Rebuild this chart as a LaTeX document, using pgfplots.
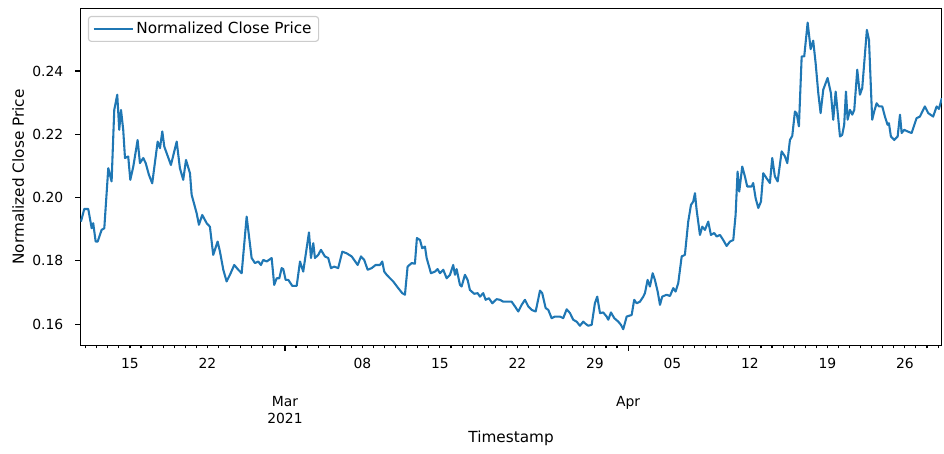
\documentclass[border=0pt]{standalone}
\usepackage{fontspec}
\setmainfont{DejaVu Sans}
\usepackage{pgfplots}
\pgfplotsset{compat=1.18}
\definecolor{mplblue}{HTML}{1F77B4}
\newcommand{\lblfont}{\fontsize{11}{13.2}\selectfont}
\begin{document}
\begin{tikzpicture}
\useasboundingbox (-57.8pt,-77.3pt) rectangle (621.9pt,248.9pt);
\begin{axis}[
  at={(0,0)}, anchor=south west,
  width=620.4pt, height=242.9pt, scale only axis,
  xmin=-18.49, xmax=59.35, ymin=0.1532, ymax=0.2598,
  axis line style={black, line width=0.8pt},
  every tick/.style={black, line width=0.8pt},
  tick align=outside,
  xtick pos=bottom, ytick pos=left,
  major tick length=3.5pt, minor tick length=2pt,
  xtick={-14,-7,7,14,21,28,35,42,49,56},
  xticklabels={15,22,08,15,22,29,05,12,19,26},
  major x tick style={draw=none},
  minor xtick={-18,-17,...,59},
  extra x ticks={0,31},
  extra x tick labels={{Mar\\2021},{Apr\\\phantom{2021}}},
  extra x tick style={major x tick style={draw=black, line width=0.8pt}, xticklabel style={yshift=-33.6pt}},
  xticklabel style={anchor=center, inner sep=0pt, align=center, yshift=-9pt},
  ytick={0.16,0.18,0.20,0.22,0.24},
  yticklabels={0.16,0.18,0.20,0.22,0.24},
  yticklabel style={anchor=east, inner sep=0pt, xshift=-8.6pt},
  xlabel={Timestamp},
  xlabel style={at={(axis description cs:0.5,0)}, anchor=center, yshift=-66.5pt, font=\lblfont},
  ylabel={Normalized Close Price},
  ylabel style={at={(axis description cs:-0.072,0.5)}, anchor=center, font=\lblfont},
  legend style={at={(axis description cs:0,1)}, xshift=5.5pt, yshift=-5.5pt, anchor=north west,
    draw=black!20, line width=0.8pt, rounded corners=2pt, inner xsep=3pt, inner ysep=2pt, font=\lblfont},
  legend cell align=left,
  legend image code/.code={\draw[#1] (0pt,0pt) -- (22pt,0pt); \path (22pt,0pt) -- (28pt,0pt);},
]
\addplot[mplblue, line width=1.5pt, line join=round] coordinates {
(-18.43,0.1924) (-18.13,0.1964) (-17.77,0.1964) (-17.46,0.1903) (-17.32,0.1919)
(-17.10,0.1861) (-16.92,0.1861) (-16.56,0.1898) (-16.32,0.1903) (-15.96,0.2093)
(-15.66,0.2051) (-15.42,0.2277) (-15.15,0.2325) (-14.97,0.2214) (-14.81,0.2277)
(-14.61,0.2214) (-14.45,0.2125) (-14.16,0.2130) (-13.97,0.2056) (-13.70,0.2098)
(-13.31,0.2182) (-13.10,0.2109) (-12.80,0.2125) (-12.58,0.2109) (-12.29,0.2072)
(-11.99,0.2045) (-11.50,0.2177) (-11.29,0.2156) (-11.08,0.2209) (-10.90,0.2161)
(-10.30,0.2103) (-9.78,0.2177) (-9.49,0.2093) (-9.19,0.2056) (-8.94,0.2119)
(-8.58,0.2077) (-8.43,0.2009) (-7.98,0.1951) (-7.77,0.1914) (-7.47,0.1945)
(-7.07,0.1919) (-6.78,0.1908) (-6.48,0.1819) (-6.08,0.1861) (-5.87,0.1829)
(-5.57,0.1772) (-5.27,0.1735) (-4.97,0.1756) (-4.58,0.1787) (-4.22,0.1772)
(-3.91,0.1761) (-3.46,0.1940) (-3.01,0.1809) (-2.71,0.1793) (-2.41,0.1798)
(-2.17,0.1787) (-1.96,0.1803) (-1.65,0.1798) (-1.20,0.1809) (-0.97,0.1724)
(-0.75,0.1745) (-0.51,0.1745) (-0.30,0.1777) (-0.15,0.1774) (0.06,0.1740)
(0.30,0.1740) (0.66,0.1721) (1.06,0.1721) (1.36,0.1798) (1.65,0.1766)
(2.17,0.1890) (2.35,0.1809) (2.56,0.1856) (2.71,0.1809) (3.01,0.1819)
(3.25,0.1835) (3.61,0.1814) (3.91,0.1809) (4.16,0.1777) (4.45,0.1782)
(4.81,0.1777) (5.18,0.1829) (5.57,0.1824) (6.03,0.1814) (6.57,0.1787)
(6.87,0.1814) (7.16,0.1803) (7.47,0.1772) (7.83,0.1777) (8.19,0.1787)
(8.58,0.1787) (8.79,0.1798) (8.97,0.1766) (9.19,0.1756) (9.49,0.1745)
(9.78,0.1735) (10.23,0.1714) (10.60,0.1698) (10.84,0.1693) (11.08,0.1782)
(11.45,0.1793) (11.74,0.1791) (11.92,0.1872) (12.20,0.1866) (12.40,0.1840)
(12.65,0.1845) (12.80,0.1809) (13.19,0.1761) (13.55,0.1766) (13.79,0.1774)
(14.00,0.1761) (14.30,0.1772) (14.61,0.1745) (14.91,0.1756) (15.20,0.1787)
(15.36,0.1756) (15.51,0.1774) (15.81,0.1724) (15.96,0.1719) (16.26,0.1756)
(16.50,0.1740) (16.71,0.1708) (17.10,0.1696) (17.41,0.1698) (17.62,0.1687)
(17.91,0.1698) (18.13,0.1677) (18.43,0.1682) (18.73,0.1666) (19.12,0.1679)
(19.42,0.1677) (19.72,0.1671) (20.17,0.1671) (20.48,0.1671) (20.78,0.1656)
(21.08,0.1640) (21.38,0.1661) (21.68,0.1677) (21.98,0.1656) (22.29,0.1645)
(22.65,0.1640) (23.04,0.1706) (23.24,0.1698) (23.55,0.1651) (23.79,0.1645)
(24.09,0.1619) (24.39,0.1624) (24.84,0.1624) (25.14,0.1619) (25.45,0.1647)
(25.75,0.1635) (26.04,0.1614) (26.35,0.1608) (26.65,0.1595) (26.95,0.1608)
(27.16,0.1601) (27.40,0.1595) (27.71,0.1598) (28.00,0.1666) (28.21,0.1687)
(28.46,0.1635) (28.75,0.1637) (29.06,0.1624) (29.21,0.1614) (29.45,0.1637)
(29.75,0.1619) (30.11,0.1608) (30.35,0.1598) (30.56,0.1584) (30.87,0.1624)
(31.32,0.1629) (31.55,0.1677) (31.77,0.1666) (32.07,0.1671) (32.37,0.1687)
(32.52,0.1698) (32.76,0.1740) (32.97,0.1719) (33.22,0.1761) (33.42,0.1740)
(33.67,0.1703) (33.88,0.1661) (34.08,0.1687) (34.48,0.1693) (34.78,0.1689)
(35.08,0.1714) (35.29,0.1703) (35.53,0.1730) (35.84,0.1814) (36.13,0.1819)
(36.43,0.1924) (36.68,0.1977) (36.88,0.1987) (37.04,0.2014) (37.19,0.1961)
(37.49,0.1882) (37.70,0.1908) (37.94,0.1898) (38.24,0.1924) (38.48,0.1882)
(38.78,0.1888) (39.00,0.1877) (39.30,0.1882) (39.59,0.1866) (39.90,0.1847)
(40.20,0.1861) (40.50,0.1866) (40.71,0.1945) (40.89,0.2082) (41.04,0.2019)
(41.31,0.2098) (41.55,0.2067) (41.76,0.2035) (42.16,0.2035) (42.30,0.2046)
(42.52,0.1998) (42.76,0.1967) (43.00,0.1987) (43.21,0.2077) (43.51,0.2061)
(43.81,0.2046) (44.02,0.2125) (44.26,0.2067) (44.51,0.2051) (44.87,0.2146)
(45.17,0.2130) (45.38,0.2109) (45.62,0.2182) (45.83,0.2195) (46.07,0.2272)
(46.22,0.2267) (46.43,0.2225) (46.68,0.2446) (46.91,0.2446) (47.22,0.2553)
(47.49,0.2469) (47.72,0.2496) (47.94,0.2425) (48.18,0.2330) (48.39,0.2267)
(48.63,0.2341) (49.02,0.2378) (49.32,0.2330) (49.53,0.2246) (49.75,0.2335)
(50.14,0.2193) (50.34,0.2198) (50.52,0.2230) (50.68,0.2335) (50.83,0.2246)
(51.04,0.2277) (51.25,0.2262) (51.43,0.2277) (51.70,0.2404) (51.94,0.2325)
(52.15,0.2346) (52.57,0.2530) (52.76,0.2498) (53.05,0.2246) (53.23,0.2272)
(53.45,0.2298) (53.66,0.2288) (53.96,0.2288) (54.20,0.2256) (54.44,0.2230)
(54.56,0.2235) (54.74,0.2193) (55.04,0.2182) (55.35,0.2193) (55.56,0.2262)
(55.71,0.2204) (55.94,0.2214) (56.25,0.2209) (56.61,0.2204) (57.06,0.2251)
(57.36,0.2256) (57.81,0.2288) (58.11,0.2267) (58.56,0.2256) (58.87,0.2288)
(59.08,0.2280) (59.34,0.2314)
};
\addlegendentry{Normalized Close Price}
\end{axis}
\end{tikzpicture}
\end{document}
